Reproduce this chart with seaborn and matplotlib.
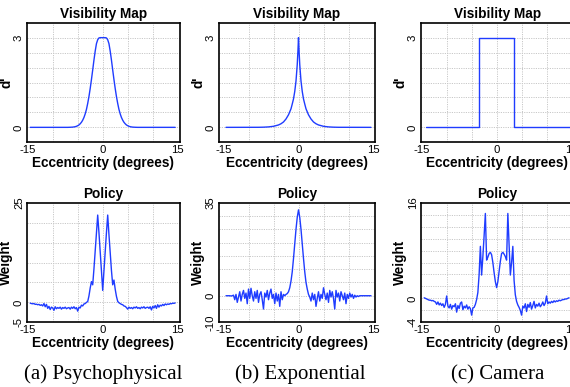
import numpy as np
import matplotlib
matplotlib.use("Agg")
import matplotlib.pyplot as plt
import seaborn as sns

# ---------------- data ----------------
ECC_TICKS = [-15, 0, 15]
ECC_TICK_LABELS = ['-15', '0', '15']
ECC_GRID = [-10, -5, 0, 5, 10]

# Visibility maps (d')
vis_psy_x = [-14.5, -7, -6.5, -6, -5.75, -5.5, -5.25, -5, -4.75, -4.5, -4.25, -4, -3.75, -3.5,
             -3.25, -3, -2.75, -2.5, -2.25, -2, -1.75, -1.5, -1.25, -1, -0.75, -0.5, -0.25, 0,
             0.25, 0.5, 0.75, 1, 1.25, 1.5, 1.75, 2, 2.25, 2.5, 2.75, 3, 3.25, 3.5, 3.75, 4,
             4.25, 4.5, 4.75, 5, 5.25, 5.5, 5.75, 6, 6.5, 7, 14.5]
vis_psy_y = [0, 0, 0.003, 0.008, 0.014, 0.022, 0.035, 0.055, 0.08, 0.12, 0.17, 0.24, 0.33, 0.45,
             0.6, 0.8, 1.03, 1.3, 1.6, 1.92, 2.25, 2.55, 2.8, 2.93, 2.99, 3.0, 3.0, 3.0,
             3.0, 3.0, 2.99, 2.93, 2.8, 2.55, 2.25, 1.92, 1.6, 1.3, 1.03, 0.8, 0.6, 0.45, 0.33, 0.24,
             0.17, 0.12, 0.08, 0.055, 0.035, 0.022, 0.014, 0.008, 0.003, 0, 0]

vis_exp_x = [-14.5, -8, -7, -6, -5, -4, -3.5, -3, -2.5, -2, -1.5, -1.25, -1, -0.75, -0.5, -0.25,
             -0.1, 0, 0.1, 0.25, 0.5, 0.75, 1, 1.25, 1.5, 2, 2.5, 3, 3.5, 4, 5, 6, 7, 8, 14.5]
vis_exp_y = [0, 0.002, 0.006, 0.015, 0.035, 0.08, 0.12, 0.18, 0.28, 0.42, 0.62, 0.78, 0.95, 1.2,
             1.55, 2.1, 2.6, 3.0, 2.6, 2.1, 1.55, 1.2, 0.95, 0.78, 0.62, 0.42, 0.28, 0.18, 0.12,
             0.08, 0.035, 0.015, 0.006, 0.002, 0]

vis_cam_x = [-14.2, -3.5, -3.5, 3.5, 3.5, 15.5]
vis_cam_y = [0, 0, 3, 3, 0, 0]

# Policies (weights), sampled every 0.25 deg from -14.5 to 14.5
policy_x = np.linspace(-14.5, 14.5, 117)

policy_psy = [
    -0.2, -0.3,
    -0.35, -0.3, -0.5, -0.45,
    -0.6, -0.5, -0.75, -0.6,
    -0.9, -0.3, -1.1, -0.5,
    -1.5, -1.0, -1.8, -1.2,
    -1.4, -2.0, -1.1, -1.6,
    -1.3, -1.5, -1.2, -1.7,
    -1.3, -1.5, -1.2, -1.6,
    -1.4, -1.3, -1.7, -1.2,
    -1.5, -1.1, -1.6, -1.3,
    -2.2, -1.2, -1.4, -0.7,
    -0.9, -0.4, -0.3, 0.0,
    0.2, 1.6, 3.6, 5.2,
    4.4, 8.4, 12.9, 17.4,
    21.9, 17.5, 12.7, 7.9,
    3.0, 7.9, 12.7, 17.5,
    21.9, 17.0, 12.5, 8.0,
    4.4, 5.6, 3.3, 1.5,
    0.25, -0.1, -0.3, -0.5,
    -0.6, -0.9, -1.0, -1.3,
    -1.7, -1.2, -1.5, -1.3,
    -1.6, -1.2, -1.4, -1.1,
    -1.5, -1.3, -1.6, -1.2,
    -1.4, -1.1, -1.5, -1.3,
    -1.2, -1.5, -1.1, -1.9,
    -1.0, -1.4, -0.8, -1.5,
    -0.6, -1.2, -0.7, -0.9,
    -0.5, -0.8, -0.4, -0.6,
    -0.4, -0.5, -0.3, -0.35,
    -0.2, -0.25, -0.15,
]

policy_exp = [
    0.0, 0.0,
    0.0, 0.0, -0.1, 0.0,
    0.2, -1.5, 0.5, -2.5,
    -0.5, 1.5, -2.0, 0.5,
    2.0, -1.0, 1.0, -3.0,
    2.5, -1.0, 2.8, 0.0,
    -2.0, 1.5, -1.0, 2.0,
    -2.5, 0.5, 1.5, -1.5,
    -5.0, 1.0, -0.5, 2.0,
    -1.5, 1.0, 2.5, -1.0,
    0.5, -3.0, 1.0, -2.0,
    0.5, -4.0, 1.5, -1.5,
    0.5, 0.0, 0.5, 0.8,
    1.5, 3.0, 5.5, 9.0,
    14.0, 19.5, 25.0, 29.5,
    32.3, 29.5, 25.0, 19.5,
    14.0, 9.0, 5.0, 2.5,
    0.5, -0.5, -2.0, 1.0,
    -1.5, 0.5, -4.0, -1.0,
    1.5, -2.0, 0.5, -1.0,
    3.0, 0.5, -1.5, 1.0,
    -2.5, 2.0, -0.5, 1.5,
    -1.0, -5.0, 2.0, -0.5,
    1.0, -2.0, 1.5, 0.0,
    -1.5, 1.0, -3.0, 0.5,
    -1.0, 1.0, -0.5, 0.5,
    -1.0, 0.2, -0.5, 0.0,
    -0.3, 0.0, 0.0, 0.0,
    0.0, 0.0, 0.0, 0.0,
    0.0, 0.0, 0.0,
]

policy_cam = [
    0.1, 0.0,
    -0.1, -0.2, -0.3, -0.3,
    -0.4, -0.35, -0.5, -0.6,
    -1.0, -0.6, -1.1, -0.8,
    -1.2, -0.9, -1.5, -1.0,
    0.4, -1.3, -1.6, -1.0,
    -1.8, -1.2, -1.4, -0.9,
    -2.3, -1.2, -1.7, -0.8,
    -0.6, -1.9, -1.3, -1.6,
    -1.1, -1.8, -1.4, -1.7,
    -2.8, -1.6, -1.5, -1.0,
    -0.2, 1.0, 4.0, 8.7,
    3.9, 7.0, 10.5, 14.2,
    6.4, 6.9, 7.5, 7.7,
    7.3, 6.0, 4.3, 2.8,
    1.8, 2.8, 4.5, 6.2,
    7.5, 7.7, 7.4, 7.0,
    6.4, 14.2, 9.0, 3.9,
    6.0, 8.7, 3.0, 0.6,
    -0.5, -1.1, -1.5, -2.0,
    -2.8, -1.3, -1.6, -0.9,
    -2.2, -1.0, -1.5, -0.7,
    -1.8, -1.2, -0.5, -1.6,
    -1.0, -1.3, -0.8, -1.4,
    -1.1, -0.6, -1.2, -0.8,
    0.4, -0.9, -0.6, -0.8,
    -0.5, -0.7, -0.4, -0.6,
    -0.4, -0.5, -0.3, -0.4,
    -0.3, -0.2, -0.2, -0.1,
    -0.1, 0.0, 0.1,
]

vis_yticks = [0, 3]
vis_ygrid = [0, 0.5, 1, 1.5, 2, 2.5, 3]
psy_yticks = [-5, 0, 25]
psy_ygrid = [0, 5, 10, 15, 20]
exp_yticks = [-10, 0, 35]
exp_ygrid = [-5, 0, 5, 10, 15, 20, 25, 30]
cam_yticks = [-4, 0, 16]
cam_ygrid = [-2, 0, 2, 4, 6, 8, 10, 12, 14]

captions = ['(a) Psychophysical', '(b) Exponential', '(c) Camera']

# ---------------- style ----------------
sns.set_theme(style="white")
plt.rcParams['font.family'] = ['Liberation Sans', 'DejaVu Sans']

BLUE = '#1f3cff'
W, H = 570, 387
fig = plt.figure(figsize=(W / 100, H / 100), dpi=100)


def px_rect(left, top, right, bottom):
    return [left / W, 1 - bottom / H, (right - left) / W, (bottom - top) / H]


cols = [(26.7, 180.0), (218.5, 375.0), (420.7, 574.0)]
xlims = [(-15.2, 15.46), (-16.0, 15.3), (-15.2, 15.5)]
rows = [(22.7, 142.3), (202.7, 322.3)]


def style_axes(ax, xlim, ylim, yticks, ygrid, title, ylabel):
    ax.set_xlim(*xlim)
    ax.set_ylim(*ylim)
    ax.set_xticks(ECC_TICKS)
    ax.set_xticklabels(ECC_TICK_LABELS)
    ax.set_xticks(ECC_GRID, minor=True)
    ax.set_yticks(yticks)
    ax.set_yticklabels([str(v) for v in yticks])
    ax.set_yticks(ygrid, minor=True)
    ax.xaxis.remove_overlapping_locs = False
    ax.yaxis.remove_overlapping_locs = False
    ax.grid(False, which='major')
    ax.grid(True, which='minor', linestyle=(0, (1.2, 1.2)), color='#c8c8c8', linewidth=0.7)
    ax.set_axisbelow(True)
    ax.tick_params(which='both', length=0)
    ax.tick_params(axis='x', labelsize=8.2, pad=2.2, colors='black')
    ax.tick_params(axis='y', labelsize=8.2, pad=2, labelrotation=90, colors='black')
    for lbl in ax.get_yticklabels():
        lbl.set_va('center')
    ax.set_title(title, fontsize=9.8, fontweight='bold', pad=3.2, color='black')
    ax.set_xlabel('Eccentricity (degrees)', fontsize=9.8, fontweight='bold', labelpad=0.3,
                  color='black')
    ax.set_ylabel(ylabel, fontsize=9.8, fontweight='bold', labelpad=0.5, color='black')
    for sp in ax.spines.values():
        sp.set_visible(True)
        sp.set_color('black')
        sp.set_linewidth(1.2)


top_data = [(vis_psy_x, vis_psy_y), (vis_exp_x, vis_exp_y), (vis_cam_x, vis_cam_y)]
bot_data = [policy_psy, policy_exp, policy_cam]
bot_ylims = [(-5, 25), (-10, 35), (-4, 16)]
bot_yticks = [psy_yticks, exp_yticks, cam_yticks]
bot_ygrids = [psy_ygrid, exp_ygrid, cam_ygrid]

for i in range(3):
    l, r = cols[i]
    ax = fig.add_axes(px_rect(l, rows[0][0], r, rows[0][1]))
    xs, ys = top_data[i]
    sns.lineplot(x=np.array(xs), y=np.array(ys), ax=ax, color=BLUE, linewidth=1.0,
                 sort=False, estimator=None)
    style_axes(ax, xlims[i], (-0.5, 3.5), vis_yticks, vis_ygrid, 'Visibility Map', "d'")

    ax2 = fig.add_axes(px_rect(l, rows[1][0], r, rows[1][1]))
    sns.lineplot(x=policy_x, y=np.array(bot_data[i]), ax=ax2, color=BLUE, linewidth=1.0,
                 sort=False, estimator=None)
    style_axes(ax2, xlims[i], bot_ylims[i], bot_yticks[i], bot_ygrids[i], 'Policy', 'Weight')

cap_x = [103.5, 300.0, 498.0]
for cx, txt in zip(cap_x, captions):
    fig.text(cx / W, 8 / H, txt, ha='center', va='baseline', fontsize=15,
             family=['Liberation Serif', 'DejaVu Serif'], color='black')

fig.savefig('out.png', dpi=100)
